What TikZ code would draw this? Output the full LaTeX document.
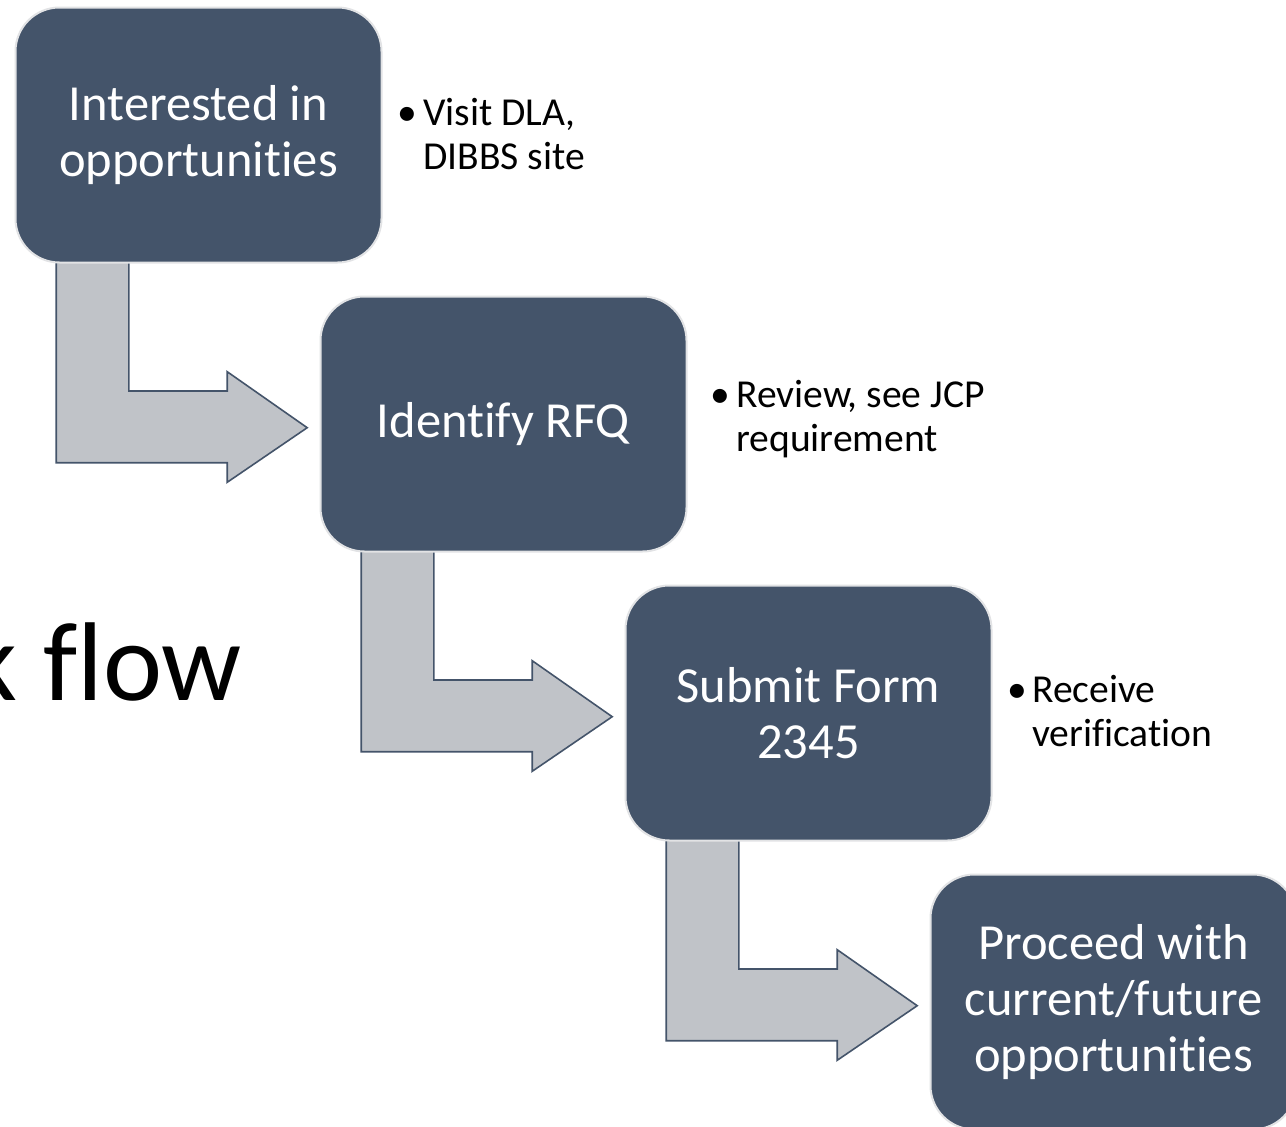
\documentclass[tikz,border=0pt]{standalone}
\usepackage{fontspec}
\setmainfont{Carlito}[Ligatures={NoCommon,NoRequired,NoContextual}]
\usetikzlibrary{calc,backgrounds}
\definecolor{boxfill}{HTML}{44546A}
\definecolor{boxline}{HTML}{E2E3E5}
\definecolor{arrfill}{HTML}{C0C3C8}
\definecolor{arrline}{HTML}{44546A}
\tikzset{
  stepbox/.style={rectangle, rounded corners=44pt, minimum width=366pt, minimum height=255pt,
    fill=boxfill, draw=boxline, line width=2pt, text=white, align=center, inner sep=0pt,
    font=\fontsize{50.5}{56}\selectfont},
  bullettext/.style={anchor=base west, align=left, inner sep=0pt, text=black,
    font=\fontsize{39.6}{44}\selectfont},
  bulletdot/.style={anchor=base, inner sep=0pt, text=black, font=\fontsize{39.6}{44}\selectfont},
  bendarrow/.style={fill=arrfill, draw=arrline, line width=1.6pt, line join=miter},
  titletext/.style={anchor=base east, inner sep=0pt, text=black, font=\fontsize{112}{120}\selectfont}
}
\begin{document}
\begin{tikzpicture}[x=1pt,y=-1pt]
\useasboundingbox (0,0) rectangle (1286,1127);
% title fragment
\node[titletext] (title) at (242,700) {k flow};
% boxes
\node[stepbox] (b1) at (198.5,135) {Interested in\\opportunities};
\node[stepbox] (b2) at (503.5,424) {Identify RFQ};
\node[stepbox] (b3) at (808.5,713) {Submit Form\\2345};
\node[stepbox] (b4) at (1113.5,1002) {Proceed with\\current/future\\opportunities};
% bullets (node base = last line's baseline)
\node[bulletdot] (d1) at (407,125.5) {•};
\node[bullettext] (t1) at (423,169.5) {Visit DLA,\\DIBBS site};
\node[bulletdot] (d2) at (720,407.5) {•};
\node[bullettext] (t2) at (736,451.5) {Review, see JCP\\requirement};
\node[bulletdot] (d3) at (1017,702.5) {•};
\node[bullettext] (t3) at (1032,746.5) {Receive\\verification};
\begin{scope}[on background layer]
\fill[white] (0,0) rectangle (1286,1127);
\foreach \a/\b in {b1/b2,b2/b3,b3/b4}{
  \draw[bendarrow] let \p1=(\a.south west), \p2=(\b.west) in
    (\x1+41.7pt,\y1+8pt) -- (\x1+114.3pt,\y1+8pt) -- (\x1+114.3pt,\y2+33pt)
    -- (\x2-92.3pt,\y2+33pt) -- (\x2-92.3pt,\y2+52.3pt) -- (\x2-12.3pt,\y2-3.7pt)
    -- (\x2-92.3pt,\y2-58.3pt) -- (\x2-92.3pt,\y2-38.7pt) -- (\x1+41.7pt,\y2-38.7pt) -- cycle;
}
\end{scope}
\end{tikzpicture}
\end{document}
